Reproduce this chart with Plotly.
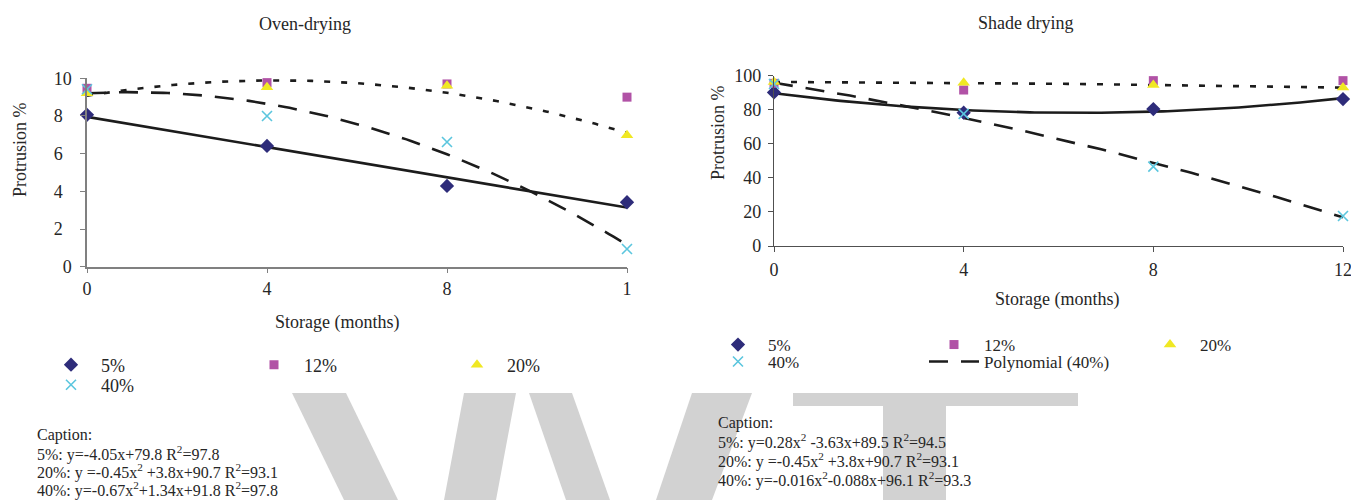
import numpy as np
import plotly.graph_objects as go

# ---------------- data ----------------
months = [0, 4, 8, 12]

# Oven-drying: protrusion (%) after storage
oven_5 = [80.6, 64.1, 42.9, 34.2]
oven_12 = [94.7, 97.7, 97.0, 90.0]
oven_20 = [92.0, 95.2, 96.0, 69.8]
oven_40 = [94.2, 80.0, 66.2, 9.4]

# Shade drying: protrusion (%) after storage
shade_5 = [90.2, 78.3, 80.4, 86.3]
shade_12 = [95.5, 91.6, 97.1, 97.1]
shade_20 = [96.3, 95.9, 94.5, 93.0]
shade_40 = [95.1, 77.6, 46.6, 17.6]

series_names = ["5%", "12%", "20%", "40%"]

# tick labels (the oven panel shows its labels cut short)
PAD = "\u00a0\u00a0"
oven_x_ticktext = ["0", "4", "8", "1"]
oven_y_ticktext = ["0", "2" + PAD, "4" + PAD, "6" + PAD, "8" + PAD, "10"]
shade_x_ticktext = ["0", "4", "8", "12"]
shade_y_ticktext = ["0", "20", "40", "60", "80", "100"]
y_tickvals = [0, 20, 40, 60, 80, 100]

oven_caption = [
    "Caption:",
    "5%: y=-4.05x+79.8 R<sup>2</sup>=97.8",
    "20%: y =-0.45x<sup>2</sup> +3.8x+90.7 R<sup>2</sup>=93.1",
    "40%: y=-0.67x<sup>2</sup>+1.34x+91.8 R<sup>2</sup>=97.8",
]
shade_caption = [
    "Caption:",
    "5%: y=0.28x<sup>2</sup> -3.63x+89.5 R<sup>2</sup>=94.5",
    "20%: y =-0.45x<sup>2</sup> +3.8x+90.7 R<sup>2</sup>=93.1",
    "40%: y=-0.016x<sup>2</sup>-0.088x+96.1 R<sup>2</sup>=93.3",
]

# ---------------- styling ----------------
W, H = 1351, 500
SERIF = "Liberation Serif, Times New Roman, serif"
TXT = "#262626"
LINE = "#1c1c1c"


def px(x):
    return x / W


def py(y):
    return 1 - y / H


markers = {
    "5%": dict(symbol="diamond", size=11, color="#2e2c7a"),
    "12%": dict(symbol="square", size=9, color="#b152a6"),
    "20%": dict(symbol="triangle-up", size=11, color="#f0e823"),
    "40%": dict(symbol="x-thin", size=10, color="#5bc6de",
                line=dict(width=1.6, color="#5bc6de")),
}

SOLID = "solid"
DOTTED = "6px,11px"
LONGDASH = "19px,13px"

xs = np.linspace(0, 12, 121)


def trend(values, degree):
    """Least-squares trend line through a series."""
    return np.polyval(np.polyfit(months, values, degree), xs)


fig = go.Figure()

# ---- trend lines ----
oven_trends = [(oven_5, 1, SOLID), (oven_20, 2, DOTTED), (oven_40, 2, LONGDASH)]
for vals, deg, dash in oven_trends:
    fig.add_trace(go.Scatter(x=xs, y=trend(vals, deg), mode="lines",
                             line=dict(color=LINE, width=2.6, dash=dash),
                             showlegend=False, hoverinfo="skip",
                             xaxis="x", yaxis="y"))

shade_trends = [(shade_5, SOLID, None), (shade_20, DOTTED, None),
                (shade_40, LONGDASH, "Polynomial (40%)")]
for vals, dash, name in shade_trends:
    fig.add_trace(go.Scatter(x=xs, y=trend(vals, 2), mode="lines",
                             line=dict(color=LINE, width=2.6, dash=dash),
                             name=name, showlegend=name is not None,
                             legend="legend4", hoverinfo="skip",
                             xaxis="x2", yaxis="y2"))

# ---- observed points ----
oven_sets = [oven_5, oven_12, oven_20, oven_40]
shade_sets = [shade_5, shade_12, shade_20, shade_40]
for name, vals in zip(series_names, oven_sets):
    fig.add_trace(go.Scatter(x=months, y=vals, mode="markers", name=name,
                             marker=markers[name], cliponaxis=False,
                             legend="legend2" if name == "40%" else "legend",
                             xaxis="x", yaxis="y"))
for name, vals in zip(series_names, shade_sets):
    fig.add_trace(go.Scatter(x=months, y=vals, mode="markers", name=name,
                             marker=markers[name], cliponaxis=False,
                             legend="legend4" if name == "40%" else "legend3",
                             xaxis="x2", yaxis="y2"))

# the polynomial entry follows the 40% marker entry
fig.data[5].legendrank = 2000

axis_base = dict(showgrid=False, zeroline=False, showline=True,
                 ticks="outside", ticklen=5, tickwidth=1, automargin=False,
                 ticklabeloverflow="allow",
                 tickfont=dict(family=SERIF, size=18, color=TXT),
                 fixedrange=True)

leg_base = dict(orientation="h", xanchor="left", yanchor="middle",
                font=dict(family=SERIF, size=18, color=TXT),
                itemwidth=50, entrywidthmode="pixels",
                bgcolor="rgba(0,0,0,0)", traceorder="normal",
                itemclick=False, itemdoubleclick=False)
leg_small = dict(leg_base, font=dict(family=SERIF, size=17, color=TXT))

fig.update_layout(
    width=W, height=H, autosize=False,
    margin=dict(l=0, r=0, t=0, b=0, pad=0, autoexpand=False),
    paper_bgcolor="white", plot_bgcolor="white",
    font=dict(family=SERIF, color=TXT),
    xaxis=dict(axis_base, domain=[px(87), px(627)], range=[0, 12],
               tickvals=months, ticktext=oven_x_ticktext, anchor="y",
               linecolor="#808080", linewidth=1.5, tickcolor="#808080",
               ticklabelstandoff=0),
    yaxis=dict(axis_base, domain=[py(266.7), py(78.3)], range=[0, 100],
               tickvals=y_tickvals, ticktext=oven_y_ticktext, anchor="x",
               linecolor="#808080", linewidth=1.5, tickcolor="#808080",
               ticklabelstandoff=5),
    xaxis2=dict(axis_base, domain=[px(774), px(1343)], range=[0, 12],
                tickvals=months, ticktext=shade_x_ticktext, anchor="y2",
                linecolor="#505050", linewidth=1.3, tickcolor="#505050",
                ticklabelstandoff=2),
    yaxis2=dict(axis_base, domain=[py(246), py(75.7)], range=[0, 100],
                tickvals=y_tickvals, ticktext=shade_y_ticktext, anchor="x2",
                linecolor="#505050", linewidth=1.3, tickcolor="#505050",
                ticklabelstandoff=3),
    legend=dict(leg_base, x=px(41), y=py(365), entrywidth=138),
    legend2=dict(leg_base, x=px(41), y=py(385), entrywidth=138),
    legend3=dict(leg_small, x=px(708), y=py(345), entrywidth=151),
    legend4=dict(leg_small, x=px(708), y=py(362), entrywidth=151),
)

# ---- titles and axis titles ----
def label(text, x, y, size=18, angle=0, xanchor="center"):
    fig.add_annotation(text=text, x=px(x), y=py(y), xref="paper", yref="paper",
                       showarrow=False, textangle=angle, xanchor=xanchor,
                       yanchor="middle",
                       font=dict(family=SERIF, size=size, color=TXT))


label("Oven-drying", 305, 24)
label("Shade drying", 1025, 23)
label("Protrusion %", 20, 150, angle=-90)
label("Protrusion %", 718, 133, angle=-90)
label("Storage (months)", 337, 322)
label("Storage (months)", 1057, 299)

# ---- captions ----
for i, line in enumerate(oven_caption):
    label(line, 35, 435 + 18.3 * i, size=16, xanchor="left")
for i, line in enumerate(shade_caption):
    label(line, 716, 423 + 18.7 * i, size=16, xanchor="left")

# ---- background watermark lettering ----
WM = "#d2d2d2"
wm_polys = [
    [(292, 393), (346, 393), (398, 500), (344, 500)],
    [(464, 393), (516, 393), (496, 500), (444, 500)],
    [(529, 393), (572, 393), (610, 500), (566, 500)],
    [(692, 393), (752, 393), (712, 500), (656, 500)],
    [(793, 393), (1078, 393), (1078, 406), (946, 406), (946, 500),
     (883, 500), (883, 406), (793, 406)],
]
for poly in wm_polys:
    path = "M " + " L ".join(f"{px(x):.5f},{py(y):.5f}" for x, y in poly) + " Z"
    fig.add_shape(type="path", path=path, xref="paper", yref="paper",
                  fillcolor=WM, line=dict(width=0), layer="below")

fig.write_html("out.html",
               post_script="document.body.style.margin='0';"
                           "document.body.style.overflow='hidden';")
